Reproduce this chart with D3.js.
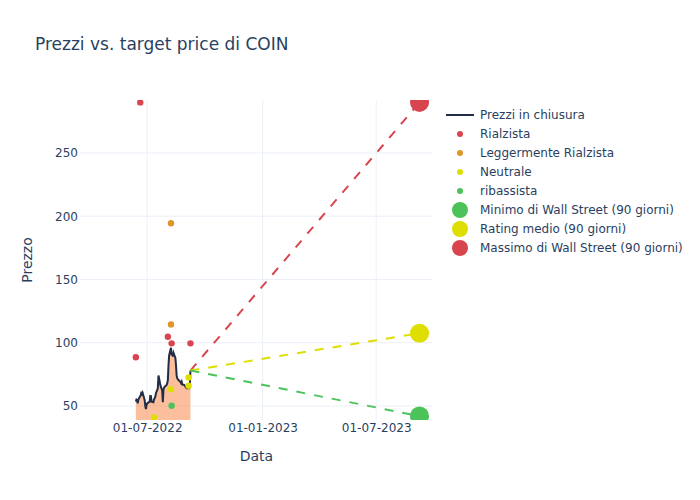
<!DOCTYPE html>
<html>
<head>
<meta charset="utf-8">
<script src="https://cdn.jsdelivr.net/npm/d3@7"></script>
<style>
  html, body { margin: 0; padding: 0; background: #fff; }
  svg { display: block; font-family: "DejaVu Sans", sans-serif; }
</style>
</head>
<body>
<svg id="chart" width="700" height="500"></svg>
<script>
// ---------------- DATA ----------------
const priceDates = ["2022-06-13","2022-06-14","2022-06-15","2022-06-16","2022-06-17",
  "2022-06-21","2022-06-22","2022-06-23","2022-06-24",
  "2022-06-27","2022-06-28","2022-06-29","2022-06-30","2022-07-01",
  "2022-07-05","2022-07-06","2022-07-07","2022-07-08",
  "2022-07-11","2022-07-12","2022-07-13","2022-07-14","2022-07-15",
  "2022-07-18","2022-07-19","2022-07-20","2022-07-21","2022-07-22",
  "2022-07-25","2022-07-26","2022-07-27","2022-07-28","2022-07-29",
  "2022-08-01","2022-08-02","2022-08-03","2022-08-04","2022-08-05",
  "2022-08-08","2022-08-09","2022-08-10","2022-08-11","2022-08-12",
  "2022-08-15","2022-08-16","2022-08-17","2022-08-18","2022-08-19",
  "2022-08-22","2022-08-23","2022-08-24","2022-08-25","2022-08-26",
  "2022-08-29","2022-08-30","2022-08-31","2022-09-01","2022-09-02",
  "2022-09-06","2022-09-07","2022-09-08"];
const priceValues = [53.4,55,54.7,52,55,
  58.7,61.3,58,60,
  54.7,50,47.5,50.5,52,
  53.4,58,57.9,53.4,
  53,55.3,56,57.3,60,
  64,74,72,69.2,66.5,
  62,53,63,64.5,65.2,
  66.6,68,70.5,82,90,
  96,90,92,89,92,
  88,82,74,72,71,
  69.5,69,68,69.2,67,
  66.6,66,65.2,64.5,64,
  64,66,78];

const bullishDates = ["2022-06-13","2022-06-20","2022-08-03","2022-08-09","2022-09-08"];
const bullishValues = [88.5,290,104.7,99.5,99.5];
const slightlyBullishDates = ["2022-08-08","2022-08-08"];
const slightlyBullishValues = [194.5,114.5];
const neutralDates = ["2022-07-12","2022-08-08","2022-09-05","2022-09-05"];
const neutralValues = [41,63.3,72.5,66];
const bearishDates = ["2022-08-09"];
const bearishValues = [50.2];

const targetDate = "2023-09-08";
const targetMin = 42;
const targetAvg = 107.5;
const targetMax = 290;

const xTickDates = ["2022-07-01","2023-01-01","2023-07-01"];
const yTickValues = [50,100,150,200,250];

const legendLabels = ["Prezzi in chiusura","Rialzista","Leggermente Rialzista","Neutrale","ribassista",
  "Minimo di Wall Street (90 giorni)","Rating medio (90 giorni)","Massimo di Wall Street (90 giorni)"];

// ---------------- LAYOUT ----------------
const parse = d3.timeParse("%Y-%m-%d");
const fmt = d3.timeFormat("%d-%m-%Y");
const M = {left: 80, right: 432.7, top: 100, bottom: 420};
const textColor = "#2a3f5f";
const gridColor = "#ebf0f8";
const cRed = "#d9454f", cOrange = "#e0952b", cYellow = "#dede00", cGreen = "#4cc35a";
const cLine = "#222c47";

const x = d3.scaleTime()
  .domain([parse("2022-03-16"), parse("2023-09-29")])
  .range([M.left, M.right]);
const y = d3.scaleLinear()
  .domain([38.9, 291.9])
  .range([M.bottom, M.top]);

const svg = d3.select("#chart");

// title
svg.append("text").attr("x", 35).attr("y", 50)
  .attr("font-size", 17).attr("fill", textColor)
  .text("Prezzi vs. target price di COIN");

// grid
const grid = svg.append("g");
grid.selectAll("line.gy").data(yTickValues).join("line")
  .attr("x1", M.left).attr("x2", M.right)
  .attr("y1", d => y(d)).attr("y2", d => y(d))
  .attr("stroke", gridColor).attr("stroke-width", 1);
grid.selectAll("line.gx").data(xTickDates.map(parse)).join("line")
  .attr("y1", M.top).attr("y2", M.bottom)
  .attr("x1", d => x(d)).attr("x2", d => x(d))
  .attr("stroke", gridColor).attr("stroke-width", 1);

// axes (labels only)
const xAxis = d3.axisBottom(x).tickValues(xTickDates.map(parse)).tickFormat(fmt).tickSize(0).tickPadding(3);
const gx = svg.append("g").attr("transform", `translate(0,${M.bottom})`).call(xAxis);
gx.select(".domain").remove();
gx.selectAll("text").attr("font-size", 12).attr("fill", textColor).attr("font-family", "DejaVu Sans, sans-serif");

const yAxis = d3.axisLeft(y).tickValues(yTickValues).tickSize(0).tickPadding(2);
const gy = svg.append("g").attr("transform", `translate(${M.left},0)`).call(yAxis);
gy.select(".domain").remove();
gy.selectAll("text").attr("font-size", 12).attr("fill", textColor).attr("font-family", "DejaVu Sans, sans-serif");

// axis titles
svg.append("text").attr("x", (M.left + M.right) / 2).attr("y", 461)
  .attr("text-anchor", "middle").attr("font-size", 14).attr("fill", textColor).text("Data");
svg.append("text").attr("transform", `translate(32,${(M.top + M.bottom) / 2}) rotate(-90)`)
  .attr("text-anchor", "middle").attr("font-size", 14).attr("fill", textColor).text("Prezzo");

// clip
svg.append("clipPath").attr("id", "plotclip").append("rect")
  .attr("x", M.left).attr("y", M.top).attr("width", M.right - M.left).attr("height", M.bottom - M.top);
const plot = svg.append("g").attr("clip-path", "url(#plotclip)");

const prices = priceDates.map((d, i) => ({date: parse(d), v: priceValues[i]}));

// area
plot.append("path").datum(prices)
  .attr("d", d3.area().x(d => x(d.date)).y0(M.bottom + 5).y1(d => y(d.v)))
  .attr("fill", "rgba(250,128,60,0.5)");

// line
plot.append("path").datum(prices)
  .attr("d", d3.line().x(d => x(d.date)).y(d => y(d.v)))
  .attr("fill", "none").attr("stroke", cLine).attr("stroke-width", 2);

// dashed target lines
const last = prices[prices.length - 1];
const tDate = parse(targetDate);
[[targetMax, cRed], [targetAvg, cYellow], [targetMin, cGreen]].forEach(([v, c]) => {
  plot.append("line")
    .attr("x1", x(last.date)).attr("y1", y(last.v))
    .attr("x2", x(tDate)).attr("y2", y(v))
    .attr("stroke", c).attr("stroke-width", 2).attr("stroke-dasharray", "9,9");
});

// rating markers
function dots(dates, vals, color) {
  plot.append("g").selectAll("circle").data(dates.map((d, i) => ({date: parse(d), v: vals[i]}))).join("circle")
    .attr("cx", d => x(d.date)).attr("cy", d => y(d.v)).attr("r", 3.2).attr("fill", color);
}
dots(bullishDates, bullishValues, cRed);
dots(slightlyBullishDates, slightlyBullishValues, cOrange);
dots(neutralDates, neutralValues, cYellow);
dots(bearishDates, bearishValues, cGreen);

// target markers
[[targetMin, cGreen], [targetAvg, cYellow], [targetMax, cRed]].forEach(([v, c]) => {
  plot.append("circle").attr("cx", x(tDate)).attr("cy", y(v)).attr("r", 9.5).attr("fill", c);
});

// legend
const legColors = [cLine, cRed, cOrange, cYellow, cGreen, cGreen, cYellow, cRed];
const leg = svg.append("g");
legendLabels.forEach((lab, i) => {
  const ly = 115 + i * 19;
  if (i === 0) {
    leg.append("line").attr("x1", 446).attr("x2", 474).attr("y1", ly).attr("y2", ly)
      .attr("stroke", legColors[i]).attr("stroke-width", 2);
  } else {
    leg.append("circle").attr("cx", 460).attr("cy", ly).attr("r", i >= 5 ? 8 : 3).attr("fill", legColors[i]);
  }
  leg.append("text").attr("x", 480).attr("y", ly + 4.3).attr("font-size", 12).attr("fill", textColor).text(lab);
});
</script>
</body>
</html>
